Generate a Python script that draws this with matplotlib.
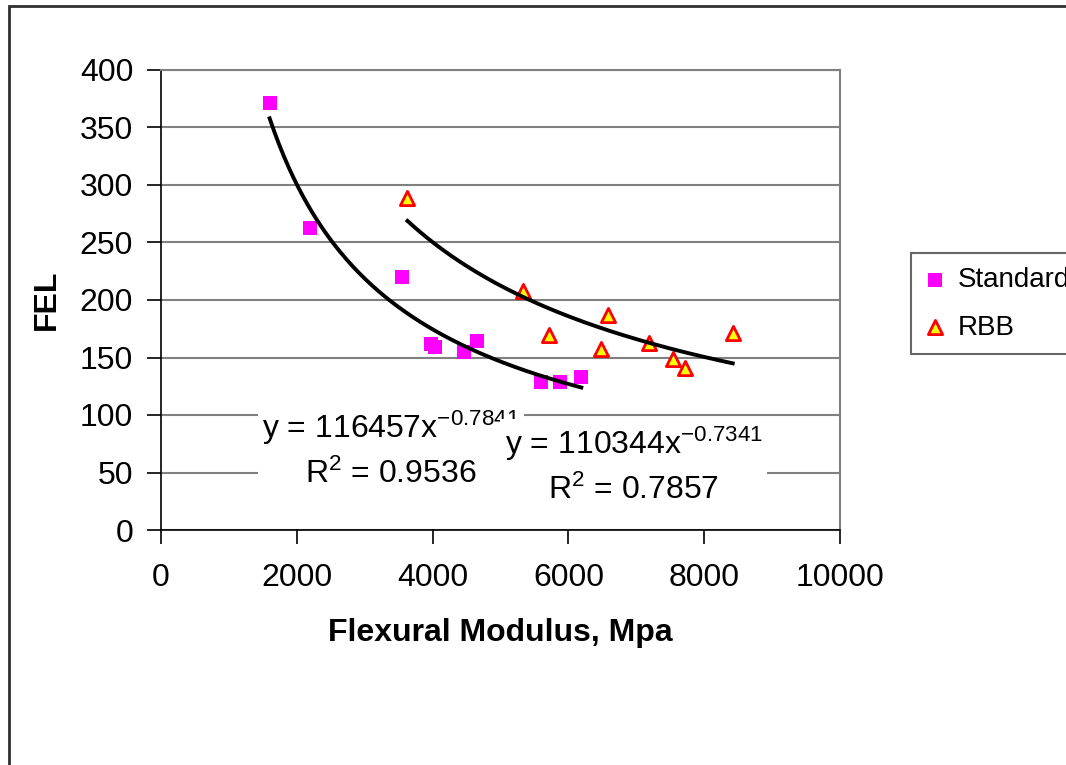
import numpy as np
import matplotlib
matplotlib.use("Agg")
import matplotlib.pyplot as plt
from matplotlib.patches import Rectangle

plt.rcParams['font.family'] = ['Liberation Sans', 'DejaVu Sans']
plt.rcParams['mathtext.fontset'] = 'custom'
plt.rcParams['mathtext.rm'] = 'Liberation Sans'
plt.rcParams['mathtext.it'] = 'Liberation Sans'
plt.rcParams['mathtext.default'] = 'regular'

# measured points
std_x = [1600, 2200, 3550, 3970, 4030, 4460, 4660, 5590, 5880, 6190]
std_y = [371, 263, 220, 162, 159, 155, 164, 129, 129, 133]
rbb_x = [3630, 5330, 5720, 6590, 6480, 7190, 7540, 7720, 8420]
rbb_y = [289, 208, 170, 187, 157, 163, 149, 141, 171]

# power-law trendlines y = a * x^b
std_fit = (116457, -0.7841, 0.9536)
rbb_fit = (110344, -0.7341, 0.7857)

x_ticks = [0, 2000, 4000, 6000, 8000, 10000]
y_ticks = [0, 50, 100, 150, 200, 250, 300, 350, 400]

W, H = 1066, 765
fig = plt.figure(figsize=(W / 100, H / 100), dpi=100)
ax = fig.add_axes([161 / W, 1 - 530 / H, (840 - 161) / W, (530 - 70) / H])

ax.set_xlim(0, 10000)
ax.set_ylim(0, 400)
ax.set_xticks(x_ticks)
ax.set_yticks(y_ticks)
ax.tick_params(axis='both', direction='out', length=10, width=1.2, labelsize=23)
ax.tick_params(axis='y', pad=10)
ax.tick_params(axis='x', pad=14)
ax.yaxis.grid(True, color='#808080', linewidth=1.5)
ax.set_axisbelow(True)
for side in ('top', 'right'):
    ax.spines[side].set_color('#808080')
    ax.spines[side].set_linewidth(1.5)
for side in ('left', 'bottom'):
    ax.spines[side].set_color('black')
    ax.spines[side].set_linewidth(1.2)

ax.scatter(std_x, std_y, marker='s', s=92, color='#FF00FF', linewidths=0,
           zorder=3, label='Standard')
ax.scatter(rbb_x, rbb_y, marker='^', s=105, facecolor='#FFFF00',
           edgecolor='#FF0000', linewidths=2, zorder=3, label='RBB')

for xs, (a, b, r2) in ((std_x, std_fit), (rbb_x, rbb_fit)):
    xx = np.linspace(min(xs), max(xs), 200)
    ax.plot(xx, a * xx ** b, color='black', linewidth=2.8, zorder=4)

box = dict(facecolor='white', edgecolor='none', pad=3)
ax.text(3390, 70, 'y = %dx$^{%.4f}$\nR$^{2}$ = %.4f' % std_fit,
        ha='center', va='center', multialignment='center', fontsize=23,
        linespacing=1.5, bbox=box, zorder=5)
ax.text(6960, 56, 'y = %dx$^{%.4f}$\nR$^{2}$ = %.4f' % rbb_fit,
        ha='center', va='center', multialignment='center', fontsize=23,
        linespacing=1.5, bbox=box, zorder=6)

ax.set_xlabel('Flexural Modulus, Mpa', fontsize=23, fontweight='bold', labelpad=18)
ax.set_ylabel('FEL', fontsize=23, fontweight='bold', labelpad=13)

leg = ax.legend(loc='upper left', bbox_to_anchor=(911 / W, 1 - 253 / H),
                bbox_transform=fig.transFigure, fontsize=20, frameon=True,
                fancybox=False, handlelength=0.7, handletextpad=0.5,
                borderpad=0.5, labelspacing=0.78, borderaxespad=0,
                markerscale=1.0)
leg.get_frame().set_edgecolor('#404040')
leg.get_frame().set_linewidth(1.5)

# chart border
fig.add_artist(Rectangle((9 / W, -0.02), 1.2, 1 - 6 / H + 0.02,
                         transform=fig.transFigure, fill=False,
                         edgecolor='#303030', linewidth=2, clip_on=False))

fig.savefig('out.png', dpi=100)
